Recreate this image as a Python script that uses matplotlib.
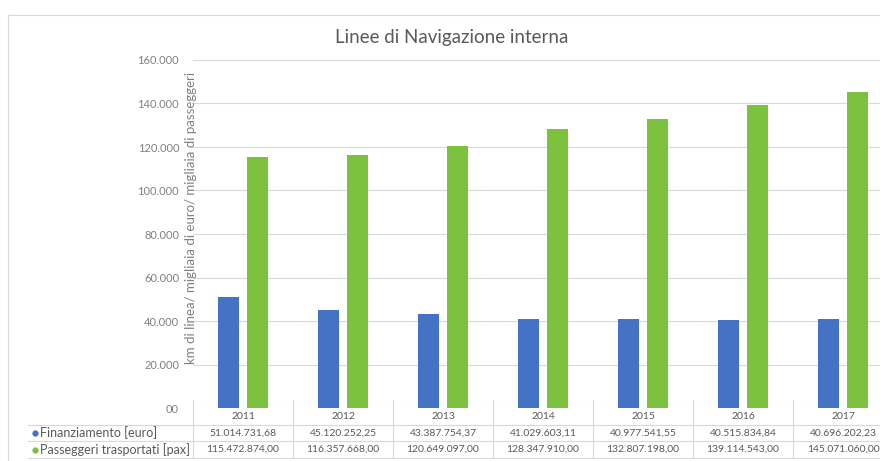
import matplotlib.pyplot as plt
import matplotlib.patches as mpatches
import matplotlib.transforms as mtransforms
import numpy as np

anni = ["2011", "2012", "2013", "2014", "2015", "2016", "2017"]
finanziamento = [51014731.68, 45120252.25, 43387754.37, 41029603.11, 40977541.55, 40515834.84, 40696202.23]
passeggeri = [115472874.00, 116357668.00, 120649097.00, 128347910.00, 132807198.00, 139114543.00, 145071060.00]
serie = ["Finanziamento [euro]", "Passeggeri trasportati [pax]"]
colori = ["#4472C4", "#7DC23E"]
yticks = [0, 20000, 40000, 60000, 80000, 100000, 120000, 140000, 160000]

plt.rcParams['font.family'] = ['Lato', 'DejaVu Sans']
grigio = "#595959"

def it_num(v, dec=2):
    s = f"{v:,.{dec}f}"
    return s.replace(",", "X").replace(".", ",").replace("X", ".")

fig = plt.figure(figsize=(8.8, 4.61), dpi=100, facecolor="white")
W, H = 880, 461
ax = fig.add_axes([193/W, (H-408)/H, 700/W, 348/H])

x = np.arange(len(anni))
w = 0.21
ax.bar(x-0.145, np.array(finanziamento)/1000, w, color=colori[0], zorder=3)
ax.bar(x+0.14, np.array(passeggeri)/1000, w, color=colori[1], zorder=3)

ax.set_xlim(-0.5, len(anni)-0.5)
ax.set_ylim(0, 160000)
ax.set_yticks(yticks)
ax.set_yticklabels(["00"] + [it_num(t, 0) for t in yticks[1:]], fontsize=8, color="#808080")
ax.tick_params(axis="y", length=0, pad=10)
ax.set_xticks([])
ax.grid(axis="y", color="#d9d9d9", linewidth=0.8, zorder=0)
for s in ax.spines.values():
    s.set_visible(False)

# titolo e asse y
fig.text(452/W, (H-38)/H, "Linee di Navigazione interna", ha="center", va="center", fontsize=13.5, color=grigio)
fig.text(191/W, (H-218)/H, "km di linea/ migliaia di euro/ migliaia di passeggeri", rotation=90,
         ha="center", va="center", fontsize=9.5, color="#808080")

# tabella dati
tr = mtransforms.blended_transform_factory(ax.transData, ax.transAxes)
def yf(px):
    return (408 - px) / 348

righe = [finanziamento, passeggeri]
for i, a in enumerate(anni):
    ax.text(i, yf(416.5), a, transform=tr, ha="center", va="center", fontsize=7.5, color=grigio, clip_on=False)
    for r, vals in enumerate(righe):
        ax.text(i, yf(433 + r*16.5), it_num(vals[i]), transform=tr, ha="center", va="center",
                fontsize=7.5, color=grigio, clip_on=False)
for i in range(len(anni)+1):
    ax.plot([i-0.5, i-0.5], [yf(400), yf(458)], transform=tr, color="#d9d9d9", lw=0.8, clip_on=False)
for ypx in [425, 441, 458]:
    fig.add_artist(plt.Line2D([28/W, 1.0], [(H-ypx)/H]*2, color="#d9d9d9", lw=0.8))
for r, nome in enumerate(serie):
    ypx = 433 + r*16.5
    fig.add_artist(plt.Line2D([35/W], [(H-ypx)/H], marker="o", markersize=3.5, color=colori[r], lw=0))
    fig.text(40/W, (H-ypx)/H, nome, ha="left", va="center", fontsize=9, color=grigio)

# cornice
fig.add_artist(mpatches.Rectangle((8/W, -0.1), 1.2, (H-15)/H + 0.1, transform=fig.transFigure,
                                  fill=False, edgecolor="#d9d9d9", lw=0.8))

fig.savefig("out.png", dpi=100)
